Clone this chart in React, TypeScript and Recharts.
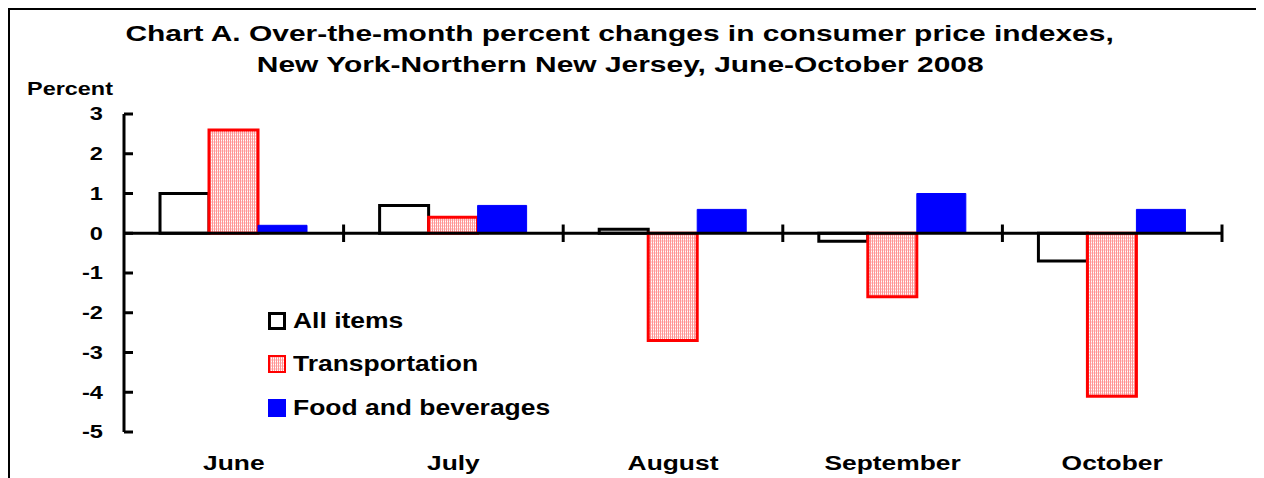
import React from 'react';
import { BarChart, Bar, XAxis, YAxis, ReferenceLine, Legend } from 'recharts';

const categories = ['June', 'July', 'August', 'September', 'October'];
const allItems = [1.0, 0.7, 0.1, -0.2, -0.7];
const transportation = [2.6, 0.4, -2.7, -1.6, -4.1];
const foodBeverages = [0.2, 0.7, 0.6, 1.0, 0.6];
const yTicks = [3, 2, 1, 0, -1, -2, -3, -4, -5];
const seriesNames = ['All items', 'Transportation', 'Food and beverages'];
const titleLines = [
  'Chart A. Over-the-month percent changes in consumer price indexes,',
  'New York-Northern New Jersey, June-October 2008',
];
const yAxisTitle = 'Percent';

const data = categories.map((m, i) => ({
  month: m,
  all: allItems[i],
  trans: transportation[i],
  food: foodBeverages[i],
}));

const FONT = '"Liberation Sans", Arial, Helvetica, sans-serif';

const YTick = (props: any) => {
  const { x, y, payload } = props;
  return (
    <g>
      <line x1={x} x2={x + 9} y1={y} y2={y} stroke="#000" strokeWidth={3} />
      <text
        transform={`translate(${x - 21},${y}) scale(1.35,1)`}
        x={0}
        y={0}
        dy="0.36em"
        textAnchor="end"
        fontFamily={FONT}
        fontWeight="bold"
        fontSize={17.5}
        fill="#000"
      >
        {payload.value}
      </text>
    </g>
  );
};

const XTick = (props: any) => {
  const { x, y, payload } = props;
  return (
    <text
      transform={`translate(${x},${y + 38}) scale(1.32,1)`}
      x={0}
      y={0}
      textAnchor="middle"
      fontFamily={FONT}
      fontWeight="bold"
      fontSize={20}
      fill="#000"
    >
      {payload.value}
    </text>
  );
};

const PatternDef = ({ id }: { id: string }) => (
  <pattern id={id} width="2" height="3" patternUnits="userSpaceOnUse">
    <rect width="2" height="3" fill="#ffd4d4" />
    <rect x="0" y="0" width="1" height="3" fill="#ff9494" />
    <rect x="1" y="0" width="1" height="1" fill="#ffffff" />
  </pattern>
);

const LegendMarker = ({ idx }: { idx: number }) => {
  if (idx === 0)
    return (
      <svg width={18} height={18} style={{ display: 'block' }}>
        <rect x={1.5} y={1.5} width={15} height={15} fill="#fff" stroke="#000" strokeWidth={3} />
      </svg>
    );
  if (idx === 1)
    return (
      <svg width={18} height={18} style={{ display: 'block' }}>
        <defs>
          <PatternDef id="legPat" />
        </defs>
        <rect x={1} y={1} width={16} height={16} fill="url(#legPat)" stroke="#ff0000" strokeWidth={2} />
      </svg>
    );
  return (
    <svg width={18} height={18} style={{ display: 'block' }}>
      <rect x={0} y={0} width={18} height={18} fill="#0000ff" />
    </svg>
  );
};

const renderLegend = () => (
  <div style={{ fontFamily: FONT, fontWeight: 'bold', fontSize: 21.5 }}>
    {seriesNames.map((n, i) => (
      <div key={n} style={{ display: 'flex', alignItems: 'center', height: 43.5 }}>
        <LegendMarker idx={i} />
        <span
          style={{
            marginLeft: 7,
            lineHeight: '22px',
            display: 'inline-block',
            whiteSpace: 'nowrap',
            transform: 'scaleX(1.23)',
            transformOrigin: 'left center',
          }}
        >
          {n}
        </span>
      </div>
    ))}
  </div>
);

export default function App() {
  return (
    <div style={{ position: 'relative', width: 1256, height: 470, background: '#fff' }}>
      <div style={{ position: 'absolute', left: 0, top: 0, width: 1256, height: 2, background: '#000' }} />
      <div style={{ position: 'absolute', left: 0, top: 0, width: 2, height: 470, background: '#000' }} />
      <div
        style={{
          position: 'absolute',
          left: 0,
          top: 9.5,
          width: 1224,
          textAlign: 'center',
          fontFamily: FONT,
          fontWeight: 'bold',
          fontSize: 22.5,
          lineHeight: '31px',
          color: '#000',
          zIndex: 2,
        }}
      >
        {titleLines.map((l) => (
          <div key={l} style={{ height: 31 }}>
            <span
              style={{
                display: 'inline-block',
                whiteSpace: 'nowrap',
                transform: 'scaleX(1.33)',
                transformOrigin: 'center center',
              }}
            >
              {l}
            </span>
          </div>
        ))}
      </div>
      <div
        style={{
          position: 'absolute',
          left: 19,
          top: 71,
          fontFamily: FONT,
          fontWeight: 'bold',
          fontSize: 18.6,
          lineHeight: '19px',
          color: '#000',
          zIndex: 2,
          whiteSpace: 'nowrap',
          transform: 'scaleX(1.26)',
          transformOrigin: 'left center',
        }}
      >
        {yAxisTitle}
      </div>
      <div style={{ position: 'absolute', left: 0, top: 0 }}>
        <BarChart
          width={1256}
          height={470}
          data={data}
          margin={{ top: 106, right: 42, bottom: 6, left: 56 }}
          barCategoryGap="16.4%"
          barGap={0}
        >
          <defs>
            <PatternDef id="transPat" />
          </defs>
          <XAxis
            dataKey="month"
            axisLine={false}
            tickLine={false}
            tickSize={0}
            tickMargin={0}
            height={40}
            interval={0}
            tick={<XTick />}
          />
          <YAxis
            domain={[-5, 3]}
            ticks={yTicks}
            interval={0}
            width={60}
            axisLine={{ stroke: '#000', strokeWidth: 3 }}
            tickLine={false}
            tickSize={0}
            tickMargin={0}
            tick={<YTick />}
          />
          <Bar
            dataKey="all"
            name={seriesNames[0]}
            fill="#ffffff"
            stroke="#000000"
            strokeWidth={3}
            isAnimationActive={false}
          />
          <Bar
            dataKey="trans"
            name={seriesNames[1]}
            fill="url(#transPat)"
            stroke="#ff0000"
            strokeWidth={3}
            isAnimationActive={false}
          />
          <Bar
            dataKey="food"
            name={seriesNames[2]}
            fill="#0000ff"
            stroke="#0000ff"
            strokeWidth={1}
            isAnimationActive={false}
          />
          <ReferenceLine y={0} stroke="#000" strokeWidth={3} />
          {categories.map((c) => (
            <ReferenceLine
              key={c}
              position="end"
              segment={[
                { x: c, y: -0.22 },
                { x: c, y: 0.22 },
              ]}
              stroke="#000"
              strokeWidth={3}
            />
          ))}
          <Legend
            layout="vertical"
            align="center"
            verticalAlign="middle"
            content={renderLegend}
            wrapperStyle={{ left: 260, top: 291, width: 360 }}
          />
        </BarChart>
      </div>
    </div>
  );
}
